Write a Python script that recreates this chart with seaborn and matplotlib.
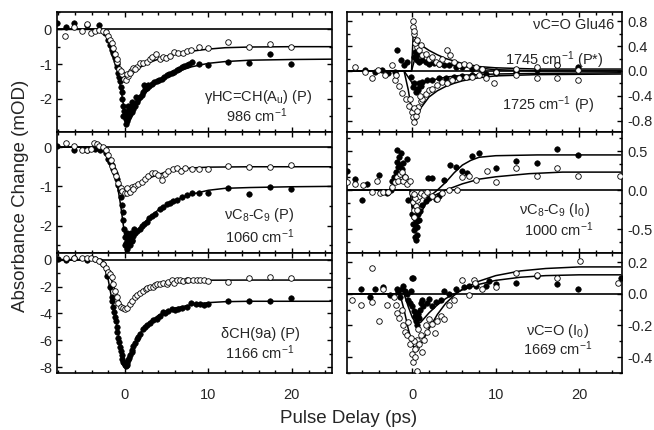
import numpy as np
import pandas as pd
import seaborn as sns
import matplotlib.pyplot as plt
from matplotlib.ticker import MultipleLocator, AutoMinorLocator, FormatStrFormatter

sns.set_theme(style='ticks')
plt.rcParams['font.family'] = ['Liberation Sans', 'DejaVu Sans']
plt.rcParams['mathtext.default'] = 'regular'
plt.rcParams['axes.unicode_minus'] = False

# ---- data: (delay ps, dA mOD) ----
# left top: gamma HC=CH 986
l1_filled = [(-8.1, 0.17), (-7.1, 0.06), (-6.1, 0.18), (-4.5, 0.12), (-3.1, 0.12), (-2.4, -0.1), (-2.0, -0.32),
             (-1.8, -0.45), (-1.6, -0.53), (-1.5, -0.6), (-1.4, -0.68), (-1.3, -0.75), (-1.2, -0.82), (-1.1, -0.9),
             (-1.0, -1.0), (-0.9, -1.1), (-0.8, -1.26), (-0.7, -1.38), (-0.6, -1.5), (-0.5, -1.65), (-0.4, -1.8),
             (-0.3, -2.0), (-0.2, -2.2), (-0.1, -2.35), (0.0, -2.5), (0.1, -2.6), (0.2, -2.65), (0.3, -2.6),
             (0.4, -2.55), (0.5, -2.5), (0.6, -2.45), (0.8, -2.38), (1.0, -2.3), (1.2, -2.2), (1.4, -2.1),
             (1.6, -2.0), (1.8, -1.95), (2.0, -1.88), (2.2, -1.8), (2.4, -1.72), (2.6, -1.68), (2.9, -1.62),
             (3.2, -1.58), (3.5, -1.52), (3.8, -1.5), (4.1, -1.45), (4.4, -1.42), (4.7, -1.38), (5.0, -1.32),
             (5.3, -1.3), (5.6, -1.25), (5.9, -1.22), (6.2, -1.18), (6.5, -1.15), (6.8, -1.1), (7.1, -1.07),
             (7.4, -1.03), (7.7, -0.99), (8.0, -0.94), (8.9, -1.0), (9.9, -1.03), (12.4, -0.94), (14.9, -0.97),
             (17.4, -0.71), (19.9, -1.0), (0.3, -2.4), (0.5, -2.3), (0.7, -2.2), (0.2, -2.5), (0.4, -2.2),
             (0.9, -2.1), (1.3, -1.95), (2.3, -1.6), (2.8, -1.6), (-0.2, -2.5), (0.1, -2.72), (0.6, -2.35)]
l1_open = [(-7.2, -0.2), (-6.1, 0.06), (-5.1, -0.06), (-4.5, 0.15), (-4.1, -0.1), (-3.6, -0.05), (-3.1, -0.03),
           (-2.6, -0.05), (-2.3, -0.08), (-2.0, -0.18), (-1.8, -0.32), (-1.6, -0.4), (-1.4, -0.55), (-1.2, -0.7),
           (-0.9, -0.95), (-0.7, -1.15), (-0.4, -1.3), (-0.1, -1.42), (0.1, -1.45), (0.4, -1.35), (0.7, -1.2),
           (1.0, -1.12), (1.4, -1.08), (1.8, -0.98), (2.2, -0.98), (2.6, -0.95), (3.0, -0.85), (3.3, -0.8),
           (3.7, -0.7), (4.2, -0.85), (4.5, -0.8), (4.9, -0.82), (5.4, -0.78), (5.9, -0.65), (6.4, -0.68),
           (6.9, -0.68), (7.4, -0.63), (7.9, -0.6), (8.9, -0.5), (9.9, -0.55), (12.4, -0.37), (14.9, -0.52),
           (17.4, -0.43), (19.9, -0.52), (-1.0, -0.85), (-0.5, -1.2), (0.3, -1.3), (0.6, -1.25), (1.2, -1.15)]
l1_fit_filled = [(-8.1, 0), (-3, 0), (-2.5, -0.05), (-2, -0.25), (-1.5, -0.6), (-1, -1.05), (-0.5, -1.7),
                 (0, -2.45), (0.3, -2.65), (0.7, -2.45), (1, -2.3), (1.5, -2.12), (2, -1.95), (3, -1.7),
                 (4, -1.5), (5, -1.36), (6, -1.24), (8, -1.08), (10, -0.98), (12, -0.93), (15, -0.89),
                 (20, -0.87), (25, -0.86)]
l1_fit_open = [(-8.1, 0), (-3, 0), (-2.5, -0.05), (-2, -0.2), (-1.5, -0.5), (-1, -0.85), (-0.5, -1.2),
               (0, -1.4), (0.3, -1.42), (0.7, -1.32), (1, -1.25), (1.5, -1.15), (2, -1.07), (3, -0.95),
               (4, -0.86), (5, -0.78), (6, -0.72), (8, -0.63), (10, -0.57), (12, -0.53), (15, -0.51),
               (20, -0.5), (25, -0.5)]

# left middle: nu C8-C9 1060
l2_filled = [(-8.1, 0.03), (-6.1, -0.08), (-4.5, -0.08), (-3.6, -0.05), (-3.0, -0.08), (-2.3, -0.15),
             (-2.0, -0.29), (-1.8, -0.37), (-1.6, -0.46), (-1.4, -0.57), (-1.2, -0.67), (-1.0, -0.8),
             (-0.8, -0.97), (-0.6, -1.1), (-0.5, -1.28), (-0.4, -1.48), (-0.25, -1.65), (-0.2, -1.87),
             (-0.1, -2.08), (0.0, -2.3), (0.1, -2.45), (0.3, -2.55), (0.6, -2.49), (0.9, -2.36), (1.0, -2.27),
             (1.2, -2.2), (1.5, -2.15), (1.8, -2.08), (2.0, -2.0), (2.3, -1.97), (2.6, -1.9), (2.9, -1.82),
             (3.3, -1.75), (3.6, -1.7), (4.2, -1.57), (4.6, -1.53), (5.0, -1.46), (5.4, -1.42), (5.8, -1.37),
             (6.2, -1.34), (6.8, -1.28), (7.4, -1.22), (8.0, -1.18), (8.9, -1.18), (9.9, -1.18), (12.4, -1.05),
             (14.9, -1.2), (17.4, -1.01), (19.9, -1.08), (0.2, -2.35), (0.4, -2.4), (0.5, -2.3), (0.7, -2.2),
             (0.8, -2.4), (1.1, -2.1), (0.3, -2.2), (0.0, -2.5), (0.2, -2.6)]
l2_open = [(-7.1, 0.11), (-6.1, 0.03), (-5.1, -0.06), (-4.5, -0.07), (-4.1, -0.04), (-3.7, 0.11), (-3.4, 0.08),
           (-3.1, 0.03), (-2.6, 0.0), (-2.3, -0.06), (-2.0, -0.2), (-1.7, -0.32), (-1.5, -0.47), (-1.3, -0.61),
           (-1.1, -0.74), (-0.8, -0.91), (-0.5, -1.03), (-0.3, -1.12), (0.0, -1.18), (0.2, -1.16), (0.5, -1.1),
           (0.8, -1.02), (1.2, -0.99), (1.6, -0.95), (2.0, -0.9), (2.4, -0.8), (2.8, -0.73), (3.2, -0.67),
           (3.6, -0.65), (4.0, -0.71), (4.4, -0.85), (4.8, -0.68), (5.2, -0.62), (5.7, -0.56), (6.2, -0.54),
           (6.7, -0.6), (7.2, -0.54), (8.0, -0.57), (8.9, -0.55), (9.9, -0.57), (12.4, -0.49), (14.9, -0.5),
           (17.4, -0.5), (19.9, -0.46), (0.3, -1.05), (0.6, -1.15), (1.0, -1.08)]
l2_fit_filled = [(-8.1, 0), (-3, 0), (-2, -0.25), (-1, -0.85), (-0.5, -1.5), (0, -2.3), (0.3, -2.5),
                 (1, -2.25), (2, -2.0), (3, -1.78), (4, -1.6), (5, -1.47), (6, -1.36), (8, -1.2), (10, -1.1),
                 (12, -1.05), (15, -1.03), (20, -1.01), (25, -1.0)]
l2_fit_open = [(-8.1, 0), (-3, 0), (-2, -0.15), (-1, -0.75), (-0.5, -1.0), (0, -1.15), (0.3, -1.17),
               (1, -1.05), (2, -0.9), (3, -0.78), (4, -0.7), (5, -0.63), (6, -0.58), (8, -0.53), (10, -0.51),
               (15, -0.5), (25, -0.5)]

# left bottom: delta CH(9a) 1166
l3_filled = [(-8.0, 0.05), (-7.1, 0.0), (-6.1, 0.1), (-4.5, 0.0), (-3.6, 0.05), (-3.0, -0.1), (-2.6, -0.35),
             (-2.2, -1.19), (-1.8, -2.07), (-1.6, -2.8), (-1.4, -3.5), (-1.2, -4.3), (-1.0, -5.0), (-0.8, -5.8),
             (-0.6, -6.5), (-0.4, -7.1), (-0.2, -7.6), (0.0, -7.85), (0.2, -7.85), (0.4, -7.5), (0.6, -7.1),
             (0.9, -6.7), (1.0, -6.45), (1.2, -6.2), (1.4, -5.93), (1.6, -5.73), (1.8, -5.5), (2.2, -5.2),
             (2.4, -5.0), (2.7, -4.9), (3.0, -4.7), (3.4, -4.5), (3.8, -4.4), (4.2, -4.2), (4.6, -3.9),
             (4.8, -4.0), (5.2, -3.8), (5.6, -3.7), (6.0, -3.75), (6.4, -3.7), (6.8, -3.6), (7.4, -3.55),
             (7.9, -3.2), (8.5, -3.3), (9.0, -3.3), (9.5, -3.35), (9.9, -3.3), (12.4, -3.1), (14.9, -3.05),
             (17.4, -3.05), (19.9, -2.85), (-0.1, -7.7), (0.1, -7.95), (0.3, -7.7), (0.5, -7.3), (0.8, -6.9),
             (-0.3, -7.4), (-0.5, -6.8), (-0.7, -6.1), (-0.9, -5.4), (-1.1, -4.6), (-1.3, -3.9), (-1.5, -3.1)]
l3_open = [(-7.1, 0.15), (-6.1, 0.15), (-5.1, 0.1), (-4.5, 0.1), (-4.1, 0.15), (-3.6, 0.05), (-3.1, -0.1),
           (-2.6, -0.3), (-2.3, -0.6), (-2.0, -0.9), (-1.8, -1.05), (-1.6, -1.3), (-1.4, -1.8), (-1.2, -2.3),
           (-1.0, -2.8), (-0.8, -3.2), (-0.5, -3.5), (-0.2, -3.6), (0.0, -3.7), (0.3, -3.6), (0.6, -3.3),
           (0.9, -3.1), (1.2, -2.8), (1.5, -2.6), (1.8, -2.5), (2.2, -2.3), (2.5, -2.2), (2.7, -2.1),
           (3.0, -2.0), (3.4, -2.0), (3.6, -1.9), (3.9, -1.8), (4.2, -1.8), (4.6, -1.75), (5.0, -1.8),
           (5.2, -1.7), (5.6, -1.55), (5.9, -1.75), (6.2, -1.5), (6.6, -1.5), (7.0, -1.6), (7.4, -1.55),
           (7.6, -1.55), (8.1, -1.5), (8.6, -1.5), (9.0, -1.5), (9.5, -1.5), (9.9, -1.6), (12.4, -1.65),
           (14.9, -1.4), (17.4, -1.3), (19.9, -1.4)]
l3_fit_filled = [(-8.1, 0), (-3, 0), (-2.5, -0.5), (-2, -1.5), (-1.5, -3.2), (-1, -4.8), (-0.5, -6.6),
                 (0, -7.7), (0.3, -7.8), (1, -6.6), (2, -5.3), (3, -4.6), (4, -4.15), (5, -3.85), (6, -3.6),
                 (8, -3.35), (10, -3.2), (12, -3.13), (15, -3.1), (25, -3.1)]
l3_fit_open = [(-8.1, 0), (-3, 0), (-2, -0.8), (-1, -2.6), (-0.5, -3.3), (0, -3.65), (0.3, -3.6), (1, -3.0),
               (2, -2.4), (3, -2.05), (4, -1.85), (5, -1.72), (6, -1.63), (8, -1.56), (10, -1.53), (15, -1.52),
               (25, -1.52)]

# right top: nu C=O Glu46, 1745 (P*) and 1725 (P)
r1_filled = [(-5.7, 0.01), (-4.5, -0.02), (-3.7, 0.01), (-2.9, -0.04), (-2.1, -0.02), (-1.8, 0.34),
             (-1.4, 0.17), (-1.0, 0.09), (-0.6, 0.14), (0.25, 0.22), (0.5, 0.17), (0.8, 0.14), (1.2, 0.17),
             (1.6, 0.14), (2.0, 0.11), (2.6, 0.12), (3.2, 0.11), (3.8, 0.1), (4.4, 0.09), (5.2, 0.07),
             (6.0, 0.06), (7.2, 0.03), (8.4, 0.01), (10.0, 0.0), (12.4, -0.02), (14.9, 0.01), (17.4, 0.09),
             (19.9, 0.06), (-0.2, -0.1), (0.1, -0.26), (0.4, -0.34), (0.5, -0.29), (0.8, -0.2), (1.2, -0.18),
             (1.8, -0.15), (2.4, -0.14), (3.2, -0.12), (4.0, -0.12), (5.0, -0.1), (6.0, -0.08), (7.2, -0.07),
             (8.8, -0.05), (10.0, -0.04), (0.3, 0.3), (0.6, 0.25), (0.2, -0.2), (0.7, -0.3), (1.0, -0.25)]
r1_open = [(-6.9, 0.06), (-5.7, -0.02), (-4.9, -0.12), (-4.1, 0.01), (-3.3, -0.07), (-2.5, 0.09), (-2.1, -0.15),
           (0.05, 0.81), (0.05, 0.71), (0.25, 0.6), (0.4, 0.49), (0.5, 0.38), (0.8, 0.33), (1.0, 0.41),
           (1.2, 0.25), (1.6, 0.28), (2.0, 0.2), (2.4, 0.22), (2.8, 0.14), (3.2, 0.11), (3.6, 0.2), (4.1, 0.33),
           (4.5, 0.25), (5.0, 0.14), (5.6, 0.09), (6.2, 0.11), (6.8, 0.09), (7.6, 0.06), (8.4, 0.03),
           (10.0, -0.02), (12.4, 0.03), (14.9, 0.06), (17.4, 0.09), (19.9, 0.01), (-2.0, -0.07), (-1.6, -0.24),
           (-1.2, -0.35), (-0.8, -0.46), (-0.4, -0.57), (-0.1, -0.67), (0.1, -0.75), (0.25, -0.83),
           (0.4, -0.72), (0.7, -0.58), (1.0, -0.48), (1.2, -0.45), (1.6, -0.37), (2.0, -0.31), (2.4, -0.29),
           (3.0, -0.23), (3.6, -0.18), (4.2, -0.2), (4.8, -0.15), (5.6, -0.12), (6.4, -0.1), (7.2, -0.1),
           (8.0, -0.07), (8.8, -0.12), (9.8, -0.2), (12.4, -0.07), (14.9, -0.12), (17.4, -0.12), (19.9, -0.14),
           (0.15, 0.65), (0.3, 0.45), (0.6, 0.5), (-0.3, -0.45), (0.2, -0.6), (0.5, -0.65), (0.9, -0.4)]
r1_fit_pstar_open = [(-7.9, 0), (-0.1, 0), (0.1, 0.6), (0.5, 0.5), (1, 0.42), (2, 0.33), (3, 0.26), (4, 0.2),
                     (5, 0.16), (6, 0.12), (8, 0.07), (10, 0.05), (15, 0.03), (25, 0.03)]
r1_fit_pstar_filled = [(-7.9, 0), (-0.1, 0), (0.3, 0.2), (1, 0.17), (2, 0.14), (4, 0.1), (6, 0.07), (10, 0.02),
                       (15, 0.0), (25, 0.0)]
r1_fit_p_open = [(-7.9, 0), (-1, 0), (-0.5, -0.3), (0, -0.7), (0.4, -0.82), (1, -0.6), (2, -0.42), (3, -0.32),
                 (4, -0.25), (5, -0.2), (6, -0.16), (8, -0.11), (10, -0.08), (15, -0.06), (25, -0.05)]
r1_fit_p_filled = [(-7.9, 0), (-1, 0), (0, -0.2), (0.4, -0.3), (1, -0.22), (2, -0.16), (4, -0.1), (6, -0.07),
                   (10, -0.05), (15, -0.04), (25, -0.03)]

# right middle: nu C8-C9 (I0) 1000
r2_filled = [(-7.8, 0.25), (-6.9, 0.14), (-6.0, -0.13), (-5.4, 0.08), (-4.0, 0.19), (-3.0, -0.04), (-2.6, 0.0),
             (-2.4, 0.11), (-2.2, 0.17), (-2.0, 0.23), (-1.9, 0.36), (-1.8, 0.51), (-1.6, 0.42), (-1.5, 0.32),
             (-1.4, 0.47), (-1.3, 0.27), (-1.2, 0.21), (-0.9, 0.17), (-1.7, 0.3), (-1.1, 0.35), (-0.7, 0.4),
             (-0.5, -0.13), (0.0, -0.3), (0.1, -0.43), (0.2, -0.51), (0.35, -0.6), (0.4, -0.64), (0.5, -0.57),
             (0.6, -0.47), (0.75, -0.38), (0.9, -0.27), (1.2, -0.19), (1.6, -0.14), (2.0, -0.1), (1.9, 0.15),
             (2.4, 0.15), (2.8, -0.11), (3.2, -0.07), (3.8, 0.13), (4.5, 0.32), (5.2, 0.3), (6.0, 0.24),
             (6.6, 0.22), (7.2, 0.43), (8.0, 0.47), (10.0, 0.28), (12.4, 0.37), (14.9, 0.35), (17.4, 0.53),
             (19.9, 0.45), (0.2, -0.35), (0.3, -0.45), (0.5, -0.4), (0.15, -0.2), (0.7, -0.3)]
r2_open = [(-7.8, 0.1), (-6.9, 0.08), (-5.9, 0.07), (-4.9, -0.03), (-4.3, 0.12), (-3.9, -0.04), (-3.5, -0.02),
           (-2.9, -0.02), (-2.5, 0.04), (-2.1, 0.1), (-1.9, 0.17), (-1.7, 0.12), (-1.5, 0.21), (-1.3, 0.23),
           (-1.1, 0.12), (-0.9, 0.17), (-0.7, 0.08), (-0.3, 0.12), (-0.1, -0.04), (0.05, -0.15), (0.15, -0.26),
           (0.25, -0.34), (0.4, -0.21), (0.55, -0.13), (0.8, -0.08), (1.0, -0.04), (1.4, -0.06), (1.8, -0.02),
           (2.4, -0.08), (2.9, -0.11), (3.6, -0.04), (4.4, 0.0), (5.4, 0.0), (6.0, 0.17), (6.8, 0.18),
           (7.6, 0.13), (9.0, 0.24), (10.0, 0.1), (12.4, 0.28), (14.9, 0.18), (17.4, 0.28), (19.9, 0.18),
           (24.9, 0.18), (0.3, -0.1), (0.6, -0.25), (0.2, -0.05)]
r2_fit_filled = [(-7.9, 0), (-0.3, 0), (0, -0.25), (0.3, -0.45), (1, -0.3), (2, -0.09), (3, 0.0), (4, 0.1),
                 (5, 0.22), (6, 0.32), (7, 0.38), (8, 0.42), (10, 0.44), (15, 0.45), (25, 0.45)]
r2_fit_open = [(-7.9, 0), (-0.2, 0), (0, -0.1), (0.3, -0.25), (1, -0.2), (2, -0.11), (3, -0.05), (4, 0.0),
               (6, 0.08), (8, 0.14), (10, 0.17), (14, 0.21), (18, 0.23), (25, 0.23)]

# right bottom: nu C=O (I0) 1669
r3_filled = [(-6.2, 0.03), (-5.1, -0.02), (-4.5, 0.03), (-3.5, 0.04), (-2.7, -0.01), (-1.9, 0.03), (-1.7, 0.01),
             (-1.5, -0.02), (-1.3, 0.03), (-1.1, 0.05), (-0.9, 0.02), (-0.7, 0.0), (-0.5, -0.04), (-0.3, -0.06),
             (-0.1, -0.08), (0.1, 0.1), (0.2, -0.11), (0.3, -0.14), (0.4, -0.17), (0.6, -0.2), (0.7, -0.13),
             (0.9, -0.1), (1.1, -0.04), (1.3, -0.08), (1.7, -0.06), (2.0, -0.03), (2.4, -0.08), (2.8, -0.05),
             (3.4, -0.04), (3.8, 0.02), (4.4, 0.0), (5.2, 0.03), (6.2, 0.04), (6.8, 0.05), (7.6, 0.05),
             (8.8, 0.05), (9.2, 0.08), (10.0, 0.06), (12.4, 0.07), (15.0, 0.11), (17.4, 0.06), (19.9, 0.03),
             (25.0, 0.1), (0.0, 0.1), (0.5, -0.12), (0.8, -0.15), (1.0, -0.06), (-0.2, 0.02)]
r3_open = [(-7.2, -0.04), (-6.2, -0.07), (-4.9, 0.165), (-4.8, -0.05), (-4.0, -0.17), (-3.5, 0.03),
           (-3.0, -0.07), (-2.2, -0.02), (-2.0, -0.07), (-1.8, -0.12), (-1.6, -0.15), (-1.3, -0.1), (-1.1, -0.2),
           (-0.9, -0.24), (-0.7, -0.26), (-0.5, -0.18), (-0.3, -0.32), (-0.1, -0.38), (0.1, -0.43), (0.3, -0.4),
           (0.4, -0.34), (0.5, -0.49), (0.6, -0.29), (0.8, -0.32), (1.0, -0.26), (1.2, -0.37), (1.4, -0.29),
           (1.6, -0.2), (1.8, -0.24), (2.0, -0.16), (2.4, -0.19), (2.7, -0.25), (3.0, -0.17), (3.4, -0.14),
           (3.8, -0.16), (4.4, -0.07), (5.0, -0.04), (6.0, 0.09), (6.8, -0.01), (7.4, 0.09), (7.5, 0.07),
           (8.4, 0.03), (10.0, 0.04), (12.4, 0.13), (14.9, 0.12), (17.4, 0.1), (20.1, 0.21), (24.7, 0.07),
           (0.2, -0.3), (0.7, -0.22), (-0.2, -0.28), (0.3, -0.35)]
r3_fit_filled = [(-7.9, 0), (-1, 0), (-0.5, -0.08), (0, -0.15), (0.5, -0.19), (1, -0.18), (2, -0.12),
                 (3, -0.07), (4, -0.03), (5, 0.0), (6, 0.025), (8, 0.06), (10, 0.085), (13, 0.105), (16, 0.115),
                 (20, 0.12), (25, 0.12)]
r3_fit_open = [(-7.9, 0), (-1.5, 0), (-1, -0.1), (-0.5, -0.22), (0, -0.32), (0.5, -0.36), (1, -0.32), (2, -0.22),
               (3, -0.13), (4, -0.06), (5, -0.01), (6, 0.03), (8, 0.08), (10, 0.115), (13, 0.145), (16, 0.16),
               (20, 0.17), (25, 0.17)]

labels = {
    'l1': ['γHC=CH(A$_u$) (P)', '986 cm$^{-1}$'],
    'l2': ['νC$_8$-C$_9$ (P)', '1060 cm$^{-1}$'],
    'l3': ['δCH(9a) (P)', '1166 cm$^{-1}$'],
    'r2': ['νC$_8$-C$_9$ (I$_0$)', '1000 cm$^{-1}$'],
    'r3': ['νC=O (I$_0$)', '1669 cm$^{-1}$'],
}


def to_df(pts):
    return pd.DataFrame(pts, columns=['t', 'dA'])


def draw(ax, filled, opened, fits):
    ax.axhline(0, color='black', lw=1.2, zorder=1)
    for f in fits:
        d = to_df(f)
        sns.lineplot(data=d, x='t', y='dA', ax=ax, color='black', lw=1.1, sort=False, estimator=None, zorder=2)
    sns.scatterplot(data=to_df(filled), x='t', y='dA', ax=ax, color='black', s=16, edgecolor='black',
                    linewidth=0.4, zorder=3)
    sns.scatterplot(data=to_df(opened), x='t', y='dA', ax=ax, facecolor='white', edgecolor='black', s=16,
                    linewidth=0.6, zorder=4)
    ax.set_xlabel('')
    ax.set_ylabel('')


def style(ax, side, xlim, ylim, major, nminor, show_x):
    ax.set_xlim(*xlim)
    ax.set_ylim(*ylim)
    ax.xaxis.set_major_locator(MultipleLocator(10))
    ax.xaxis.set_minor_locator(MultipleLocator(2))
    ax.yaxis.set_major_locator(MultipleLocator(major))
    ax.yaxis.set_minor_locator(AutoMinorLocator(nminor))
    for s in ax.spines.values():
        s.set_visible(True)
        s.set_linewidth(1.2)
        s.set_color('black')
    ax.tick_params(which='both', direction='in', top=True, bottom=True, left=True, right=True,
                   color='black', width=1.0)
    ax.tick_params(which='major', length=3.4)
    ax.tick_params(which='minor', length=2.0)
    ax.tick_params(axis='x', labelbottom=show_x, pad=11, labelsize=10.5)
    if side == 'left':
        ax.tick_params(axis='y', labelleft=True, labelright=False, pad=4, labelsize=10.5)
    else:
        ax.tick_params(axis='y', labelleft=False, labelright=True, pad=4, labelsize=10.5)
        ax.yaxis.set_major_formatter(FormatStrFormatter('%.1f'))


fig = plt.figure(figsize=(6.54, 4.30), dpi=100)
lx, rx, w = 0.0879, 0.5306, 0.4205
h = 0.2798
bottoms = [0.6923, 0.4126, 0.1326]
xl_left = (-8.08, 24.8)
xl_right = (-7.84, 25.15)

ax_l1 = fig.add_axes([lx, bottoms[0], 0.4197, h])
ax_l2 = fig.add_axes([lx, bottoms[1], 0.4197, h])
ax_l3 = fig.add_axes([lx, bottoms[2], 0.4197, h])
ax_r1 = fig.add_axes([rx, bottoms[0], w, h])
ax_r2 = fig.add_axes([rx, bottoms[1], w, h])
ax_r3 = fig.add_axes([rx, bottoms[2], w, h])

draw(ax_l1, l1_filled, l1_open, [l1_fit_filled, l1_fit_open])
draw(ax_l2, l2_filled, l2_open, [l2_fit_filled, l2_fit_open])
draw(ax_l3, l3_filled, l3_open, [l3_fit_filled, l3_fit_open])
draw(ax_r1, r1_filled, r1_open, [r1_fit_pstar_open, r1_fit_pstar_filled, r1_fit_p_open, r1_fit_p_filled])
draw(ax_r2, r2_filled, r2_open, [r2_fit_filled, r2_fit_open])
draw(ax_r3, r3_filled, r3_open, [r3_fit_filled, r3_fit_open])

style(ax_l1, 'left', xl_left, (-2.97, 0.5), 1, 2, False)
style(ax_l2, 'left', xl_left, (-2.69, 0.38), 1, 2, False)
style(ax_l3, 'left', xl_left, (-8.44, 0.52), 2, 2, True)
style(ax_r1, 'right', xl_right, (-0.99, 0.95), 0.4, 2, False)
style(ax_r2, 'right', xl_right, (-0.8, 0.74), 0.5, 3, False)
style(ax_r3, 'right', xl_right, (-0.5, 0.26), 0.2, 2, True)

fs = 10.5
ax_l1.text(0.73, 0.29, labels['l1'][0], transform=ax_l1.transAxes, ha='center', va='center', fontsize=fs)
ax_l1.text(0.727, 0.14, labels['l1'][1], transform=ax_l1.transAxes, ha='center', va='center', fontsize=fs)
ax_l2.text(0.734, 0.31, labels['l2'][0], transform=ax_l2.transAxes, ha='center', va='center', fontsize=fs)
ax_l2.text(0.737, 0.128, labels['l2'][1], transform=ax_l2.transAxes, ha='center', va='center', fontsize=fs)
ax_l3.text(0.738, 0.325, labels['l3'][0], transform=ax_l3.transAxes, ha='center', va='center', fontsize=fs)
ax_l3.text(0.738, 0.167, labels['l3'][1], transform=ax_l3.transAxes, ha='center', va='center', fontsize=fs)
ax_r1.text(0.973, 0.89, 'νC=O Glu46', transform=ax_r1.transAxes, ha='right', va='center', fontsize=fs)
ax_r1.text(0.755, 0.6, '1745 cm$^{-1}$ (P*)', transform=ax_r1.transAxes, ha='center', va='center', fontsize=fs)
ax_r1.text(0.733, 0.225, '1725 cm$^{-1}$ (P)', transform=ax_r1.transAxes, ha='center', va='center', fontsize=fs)
ax_r2.text(0.755, 0.35, labels['r2'][0], transform=ax_r2.transAxes, ha='center', va='center', fontsize=fs)
ax_r2.text(0.77, 0.19, labels['r2'][1], transform=ax_r2.transAxes, ha='center', va='center', fontsize=fs)
ax_r3.text(0.766, 0.35, labels['r3'][0], transform=ax_r3.transAxes, ha='center', va='center', fontsize=fs)
ax_r3.text(0.766, 0.2, labels['r3'][1], transform=ax_r3.transAxes, ha='center', va='center', fontsize=fs)

fig.text(0.031, 0.545, 'Absorbance Change (mOD)', rotation=90, ha='center', va='center', fontsize=13.5)
fig.text(0.533, 0.027, 'Pulse Delay (ps)', ha='center', va='center', fontsize=13.5)

fig.savefig('out.png', dpi=100, facecolor='white')
